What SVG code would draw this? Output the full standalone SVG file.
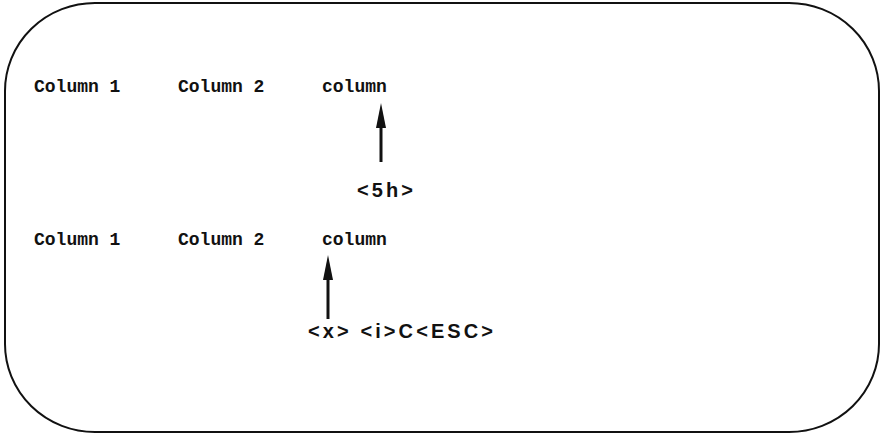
<svg xmlns="http://www.w3.org/2000/svg" width="884" height="435" viewBox="0 0 884 435">
<style>
.mono{font-family:"Liberation Mono","DejaVu Sans Mono",monospace;font-size:18px;font-weight:bold;fill:#111}
.key{font-family:"Liberation Sans","DejaVu Sans",sans-serif;font-size:20px;font-weight:bold;fill:#111}
.shaft{stroke:#111;stroke-width:3;fill:none}
.head{fill:#111}
</style>
<rect width="884" height="435" fill="#fff"/>
<g id="frame">
<rect x="5" y="3" width="874" height="429" rx="90" ry="88" fill="none" stroke="#111" stroke-width="2"/>
</g>
<g id="row1">
<text class="mono" x="34" y="92">Column 1</text>
<text class="mono" x="178" y="92">Column 2</text>
<text class="mono" x="322" y="92">column</text>
</g>
<g id="label1">
<text class="key" x="357" y="197" textLength="56" lengthAdjust="spacing">&lt;5h&gt;</text>
</g>
<g id="row2">
<text class="mono" x="34" y="245">Column 1</text>
<text class="mono" x="178" y="245">Column 2</text>
<text class="mono" x="322" y="245">column</text>
</g>
<g id="label2">
<text class="key" x="308" y="338" textLength="185" lengthAdjust="spacing">&lt;x&gt; &lt;i&gt;C&lt;ESC&gt;</text>
</g>
<g id="connectors">
<line class="shaft" x1="381" y1="162" x2="381" y2="124"/>
<polygon class="head" points="381,103 376,128 386,128"/>
<line class="shaft" x1="328" y1="319" x2="328" y2="276"/>
<polygon class="head" points="328,255 323,280 333,280"/>
</g>
</svg>
